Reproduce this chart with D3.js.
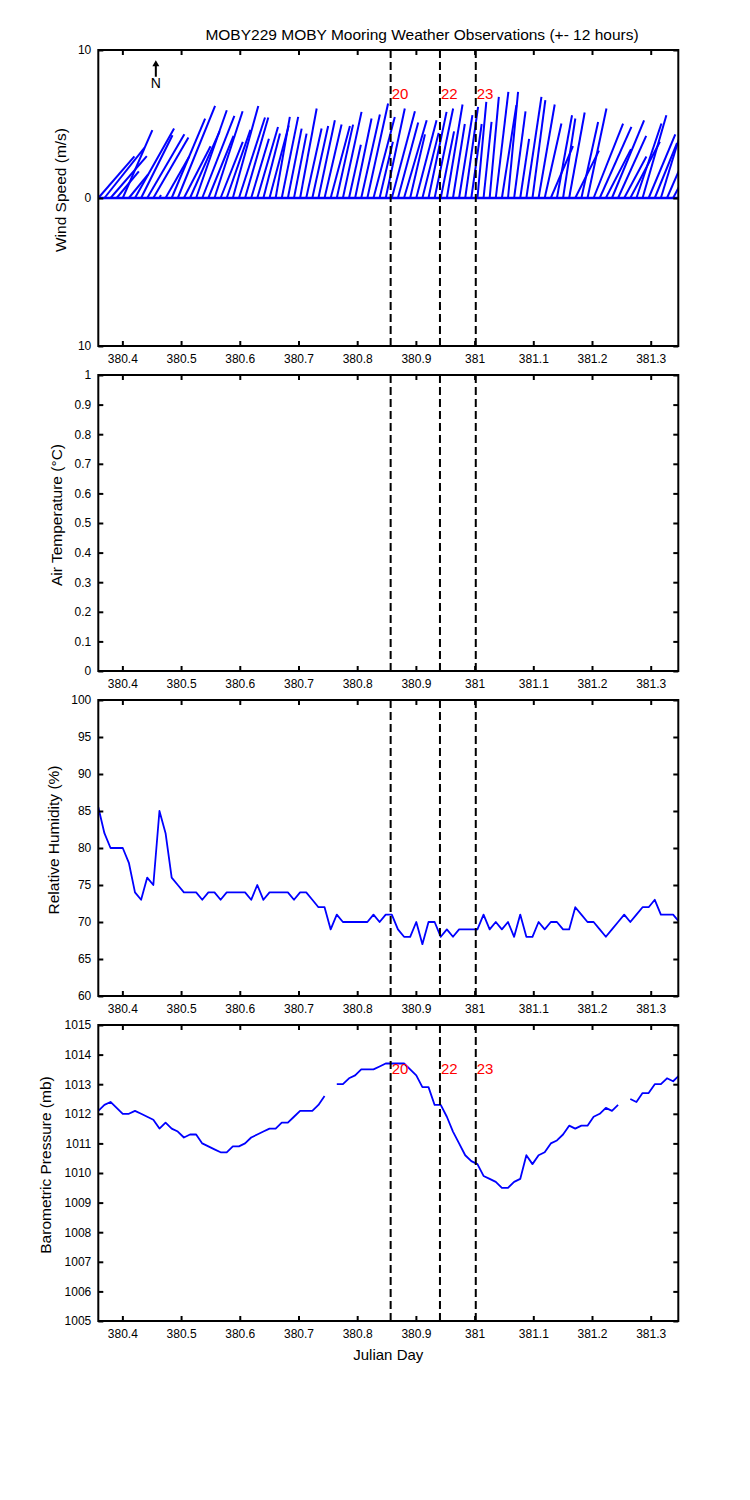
<!DOCTYPE html>
<html>
<head>
<meta charset="utf-8">
<script src="https://cdn.jsdelivr.net/npm/d3@7"></script>
<style>
  body { margin: 0; background: #fff; }
  svg text { font-family: Arial, "Liberation Sans", Helvetica, sans-serif; }
</style>
</head>
<body>
<div id="container"></div>
<script>
////////////////////// data //////////////////////
var titleText = "MOBY229 MOBY Mooring Weather Observations (+- 12 hours)";
var dayDomain = [380.359, 381.347];
// 15 minute samples starting at the left edge of the window
var sampleStart = 380.359, sampleStep = 1 / 96;

var xTicks = [380.4, 380.5, 380.6, 380.7, 380.8, 380.9, 381, 381.1, 381.2, 381.3];
var xTickLabels = ["380.4", "380.5", "380.6", "380.7", "380.8", "380.9", "381", "381.1", "381.2", "381.3"];

// overpass / event markers
var eventDays = [380.857, 380.941, 381.002];
var eventLabels = ["20", "22", "23"];

// wind components (m/s), east and north
var windU = [2.44, 2.70, 2.45, 1.50, 2.00, 1.30, 2.64, 2.12, 2.51, 2.37,
             0.10, 1.60, 2.26, 2.52, 1.80, 2.00, 2.07, 2.17, 1.70, 1.90,
             1.50, 1.60, 1.72, 1.76, 1.57, 1.20, 1.40, 1.12, 1.30, 0.96,
             1.11, 0.93, 0.85, 1.12, 1.04, 1.07, 1.11, 1.15, 1.30, 1.10,
             1.26, 0.80, 1.11, 1.26, 1.40, 1.44, 0.90, 1.29, 1.56, 1.37,
             1.53, 1.00, 1.37, 1.10, 1.22, 1.25, 0.90, 1.06, 0.80, 0.90,
             0.87, 0.70, 0.60, 0.54, 0.62, 0.85, 0.98, 0.68, 0.77, 0.60,
             1.02, 0.87, 1.09, 1.13, 1.50, 1.02, 0.83, 1.05, 1.60, 1.13,
             1.28, 1.99, 2.14, 1.70, 2.17, 1.90, 1.50, 2.00, 1.69, 1.61,
             1.80, 1.50, 1.80, 2.00, 1.80, 1.60];
var windV = [2.81, 3.38, 2.83, 1.80, 4.58, 1.60, 4.69, 4.24, 4.31, 4.08,
             0.20, 2.80, 5.37, 6.22, 3.50, 4.50, 5.93, 5.55, 4.20, 5.86,
             3.80, 4.60, 6.22, 5.44, 5.44, 4.00, 4.80, 4.35, 4.90, 5.48,
             5.48, 4.69, 4.35, 6.05, 4.69, 4.87, 5.25, 4.96, 4.87, 4.96,
             5.82, 3.60, 5.37, 5.64, 6.39, 5.48, 3.80, 6.05, 5.86, 5.10,
             5.25, 4.30, 5.25, 4.40, 5.82, 6.05, 4.50, 6.32, 5.00, 5.60,
             6.16, 5.00, 6.50, 5.14, 6.83, 7.17, 6.27, 7.17, 5.86, 4.00,
             6.83, 6.61, 6.32, 5.03, 3.50, 5.59, 5.37, 5.78, 3.20, 5.14,
             6.05, 5.03, 4.80, 3.30, 5.25, 4.20, 2.80, 3.80, 5.03, 5.59,
             4.30, 3.70, 5.90, 4.60, 3.40, 1.50];

// relative humidity (%)
var humidity = [85.5, 82, 80, 80, 80, 78, 74, 73, 76, 75,
                85, 82, 76, 75, 74, 74, 74, 73, 74, 74,
                73, 74, 74, 74, 74, 73, 75, 73, 74, 74,
                74, 74, 73, 74, 74, 73, 72, 72, 69, 71,
                70, 70, 70, 70, 70, 71, 70, 71, 71, 69,
                68, 68, 70, 67, 70, 70, 68, 69, 68, 69,
                69, 69, 69, 71, 69, 70, 69, 70, 68, 71,
                68, 68, 70, 69, 70, 70, 69, 69, 72, 71,
                70, 70, 69, 68, 69, 70, 71, 70, 71, 72,
                72, 73, 71, 71, 71, 70];

// barometric pressure (mb), null = missing sample
var pressure = [1012.1, 1012.3, 1012.4, 1012.2, 1012.0, 1012.0, 1012.1, 1012.0, 1011.9, 1011.8,
                1011.5, 1011.7, 1011.5, 1011.4, 1011.2, 1011.3, 1011.3, 1011.0, 1010.9, 1010.8,
                1010.7, 1010.7, 1010.9, 1010.9, 1011.0, 1011.2, 1011.3, 1011.4, 1011.5, 1011.5,
                1011.7, 1011.7, 1011.9, 1012.1, 1012.1, 1012.1, 1012.3, 1012.6, null, 1013.0,
                1013.0, 1013.2, 1013.3, 1013.5, 1013.5, 1013.5, 1013.6, 1013.7, 1013.7, 1013.7,
                1013.7, 1013.5, 1013.3, 1012.9, 1012.9, 1012.3, 1012.3, 1011.9, 1011.4, 1011.0,
                1010.6, 1010.4, 1010.3, 1009.9, 1009.8, 1009.7, 1009.5, 1009.5, 1009.7, 1009.8,
                1010.6, 1010.3, 1010.6, 1010.7, 1011.0, 1011.1, 1011.3, 1011.6, 1011.5, 1011.6,
                1011.6, 1011.9, 1012.0, 1012.2, 1012.1, 1012.3, null, 1012.5, 1012.4, 1012.7,
                1012.7, 1013.0, 1013.0, 1013.2, 1013.1, 1013.3];

var windTicks = [-10, 0, 10];
var windTickLabels = ["10", "0", "10"];
var tempTicks = [0, 0.1, 0.2, 0.3, 0.4, 0.5, 0.6, 0.7, 0.8, 0.9, 1];
var tempTickLabels = ["0", "0.1", "0.2", "0.3", "0.4", "0.5", "0.6", "0.7", "0.8", "0.9", "1"];
var humTicks = [60, 65, 70, 75, 80, 85, 90, 95, 100];
var presTicks = [1005, 1006, 1007, 1008, 1009, 1010, 1011, 1012, 1013, 1014, 1015];

var obsDays = humidity.map(function(d, i) { return sampleStart + i * sampleStep; });

////////////////////// layout //////////////////////
var plotLeft = 98.3, plotRight = 678.3, panelHeight = 296;
var panelTops = [50, 375, 700, 1025];
var blue = "#0000ff";

var svg = d3.select("div#container")
  .append("svg")
  .attr("width", 750)
  .attr("height", 1500);

svg.append("rect").attr("width", 750).attr("height", 1500).attr("fill", "#fff");

var x = d3.scaleLinear().domain(dayDomain).range([plotLeft, plotRight]);

svg.append("text")
  .attr("x", 422)
  .attr("y", 40)
  .attr("text-anchor", "middle")
  .style("font-size", "15.5px")
  .text(titleText);

var panels = [
  {domain: [-10, 10], ticks: windTicks, labels: windTickLabels, title: "Wind Speed (m/s)", labelX: 61,
   xlabel: true, eventText: true, draw: drawWind},
  {domain: [0, 1], ticks: tempTicks, labels: tempTickLabels, title: "Air Temperature (\u00B0C)", labelX: 57,
   xlabel: false, eventText: false, draw: function() {}},
  {domain: [60, 100], ticks: humTicks, labels: humTicks.map(String), title: "Relative Humidity (%)", labelX: 54,
   xlabel: false, eventText: false, draw: function(g, y) { drawSeries(g, y, humidity); }},
  {domain: [1005, 1015], ticks: presTicks, labels: presTicks.map(String), title: "Barometric Pressure (mb)", labelX: 46,
   xlabel: true, eventText: true, draw: function(g, y) { drawSeries(g, y, pressure); }}
];

panels.forEach(drawPanel);

////////////////////// functions //////////////////////
function drawPanel(p, i) {
  var top = panelTops[i], bottom = top + panelHeight;
  var y = d3.scaleLinear().domain(p.domain).range([bottom, top]);
  var g = svg.append("g").attr("class", "panel");

  // white axes background (hides the overlapping xlabel of the panel above)
  g.append("rect")
    .attr("x", plotLeft).attr("y", top)
    .attr("width", plotRight - plotLeft).attr("height", panelHeight)
    .attr("fill", "#fff");

  g.append("clipPath").attr("id", "clip" + i)
    .append("rect")
    .attr("x", plotLeft).attr("y", top)
    .attr("width", plotRight - plotLeft).attr("height", panelHeight);

  var plot = g.append("g").attr("clip-path", "url(#clip" + i + ")");
  p.draw(plot, y);

  // dashed event lines
  plot.selectAll("line.event")
    .data(eventDays)
    .enter().append("line")
    .attr("class", "event")
    .attr("x1", function(d) { return x(d); })
    .attr("x2", function(d) { return x(d); })
    .attr("y1", top).attr("y2", bottom)
    .attr("stroke", "#000")
    .attr("stroke-width", 2)
    .attr("stroke-dasharray", "8,4");

  if (p.eventText) {
    g.selectAll("text.event")
      .data(eventDays)
      .enter().append("text")
      .attr("class", "event")
      .attr("x", function(d) { return x(d) + 1; })
      .attr("y", top + 49)
      .attr("fill", "#ff0000")
      .style("font-size", "15px")
      .text(function(d, k) { return eventLabels[k]; });
  }

  // ticks, all pointing inward
  var fmtY = function(d, k) { return p.labels[k]; };
  g.append("g").attr("transform", "translate(0," + bottom + ")")
    .call(d3.axisBottom(x).tickValues(xTicks).tickSize(-5).tickPadding(8)
      .tickFormat(function(d, k) { return xTickLabels[k]; }))
    .call(styleAxis);
  g.append("g").attr("transform", "translate(0," + top + ")")
    .call(d3.axisTop(x).tickValues(xTicks).tickSize(-5).tickFormat(""))
    .call(styleAxis);
  g.append("g").attr("transform", "translate(" + plotLeft + ",0)")
    .call(d3.axisLeft(y).tickValues(p.ticks).tickSize(-5).tickPadding(7).tickFormat(fmtY))
    .call(styleAxis);
  g.append("g").attr("transform", "translate(" + plotRight + ",0)")
    .call(d3.axisRight(y).tickValues(p.ticks).tickSize(-5).tickFormat(""))
    .call(styleAxis);

  // box
  g.append("rect")
    .attr("x", plotLeft).attr("y", top)
    .attr("width", plotRight - plotLeft).attr("height", panelHeight)
    .attr("fill", "none")
    .attr("stroke", "#000")
    .attr("stroke-width", 2);

  g.append("text")
    .attr("transform", "translate(" + p.labelX + "," + (top + panelHeight / 2 - 8) + ") rotate(-90)")
    .attr("text-anchor", "middle")
    .attr("dy", "0.35em")
    .style("font-size", "15.5px")
    .text(p.title);

  if (p.xlabel) {
    g.append("text")
      .attr("x", (plotLeft + plotRight) / 2)
      .attr("y", bottom + 39)
      .attr("text-anchor", "middle")
      .style("font-size", "15px")
      .text("Julian Day");
  }
}

function styleAxis(sel) {
  sel.select(".domain").remove();
  sel.selectAll(".tick line").attr("stroke", "#000").attr("stroke-width", 2);
  sel.selectAll(".tick text")
    .attr("fill", "#000")
    .style("font-size", "12px")
    .style("font-family", "Arial, 'Liberation Sans', sans-serif");
}

function drawSeries(g, y, values) {
  var line = d3.line()
    .defined(function(d) { return d != null; })
    .x(function(d, i) { return x(obsDays[i]); })
    .y(function(d) { return y(d); });
  g.append("path")
    .datum(values)
    .attr("d", line)
    .attr("fill", "none")
    .attr("stroke", blue)
    .attr("stroke-width", 1.8)
    .attr("stroke-linejoin", "round");
}

function drawWind(g, y) {
  var unit = y(0) - y(1);   // pixels per m/s, used for both components

  g.append("line")
    .attr("x1", x(dayDomain[0])).attr("x2", x(dayDomain[1]))
    .attr("y1", y(0)).attr("y2", y(0))
    .attr("stroke", blue)
    .attr("stroke-width", 2.5);

  g.selectAll("line.stick")
    .data(windU)
    .enter().append("line")
    .attr("class", "stick")
    .attr("x1", function(d, i) { return x(obsDays[i]); })
    .attr("y1", y(0))
    .attr("x2", function(d, i) { return x(obsDays[i]) + d * unit; })
    .attr("y2", function(d, i) { return y(windV[i]); })
    .attr("stroke", blue)
    .attr("stroke-width", 2);

  // north arrow
  var ax = x(380.457);
  g.append("line")
    .attr("x1", ax).attr("x2", ax)
    .attr("y1", y(8.2)).attr("y2", y(9.0))
    .attr("stroke", "#000").attr("stroke-width", 2);
  g.append("path")
    .attr("d", "M" + (ax - 3.5) + "," + y(8.9) + "L" + ax + "," + y(9.3) + "L" + (ax + 3.5) + "," + y(8.9) + "Z")
    .attr("fill", "#000");
  g.append("text")
    .attr("x", ax)
    .attr("y", y(7.4))
    .attr("text-anchor", "middle")
    .style("font-size", "14px")
    .text("N");
}
</script>
</body>
</html>
